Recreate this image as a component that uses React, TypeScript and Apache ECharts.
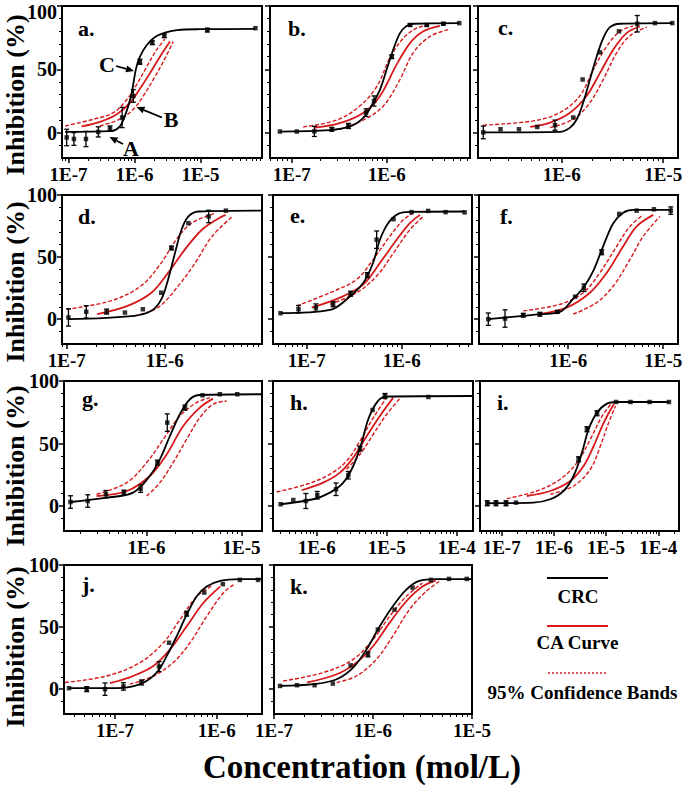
import React, { useEffect, useRef } from 'react';
import * as echarts from 'echarts';

// ---------- data: [concentration mol/L, inhibition %, error] ----------
const aPts = [[9.4e-8,-3.8,6.5],[1.21e-7,-5,5],[1.84e-7,-5,6],[2.83e-7,0.6,4],[4.26e-7,3.3,2],[6.5e-7,12,8],[9.6e-7,29,5],[1.21e-6,56,2],[1.86e-6,71,1.5],[2.83e-6,76.5,1.5],[1.27e-5,81,1.5],[6.8e-5,82.5,0]];
const aCRC = [[8.9e-8,0.6],[4.3e-7,1.2],[6.0e-7,5],[7.6e-7,17],[9.1e-7,31.5],[1.05e-6,50],[1.21e-6,60],[1.53e-6,69],[2.05e-6,75.5],[2.9e-6,79],[4.4e-6,81],[9.8e-6,81.7],[6.8e-5,82]];
const aCA = [[1.58e-7,4.9],[3.0e-7,8.5],[5.4e-7,14.5],[8.6e-7,23.7],[1.21e-6,34.7],[1.72e-6,47],[2.43e-6,60],[3.45e-6,72]];
const aUp = [[8.9e-8,5.3],[2.4e-7,10.6],[4.8e-7,15.8],[7.6e-7,26],[1.08e-6,38],[1.53e-6,52],[2.17e-6,65.5],[2.9e-6,74]];
const aLo = [[3.0e-7,5.3],[6.0e-7,10.6],[9.6e-7,18.4],[1.36e-6,29],[1.93e-6,42],[2.73e-6,56],[3.87e-6,72]];

const bPts = [[7.5e-8,0.9,0],[1.13e-7,0.9,0],[1.73e-7,1,4],[2.64e-7,2.7,1.5],[3.95e-7,5.3,2],[6.05e-7,15.8,3],[7.35e-7,25,4],[1.13e-6,60,1.5],[1.76e-6,85,1],[2.64e-6,85,1],[3.95e-6,86,1],[5.8e-6,86.5,0]];
const bCRC = [[7.5e-8,0.9],[2.5e-7,2],[4.1e-7,4.9],[5.7e-7,11.9],[7.2e-7,23.7],[8.5e-7,34],[1.0e-6,50],[1.17e-6,65.5],[1.38e-6,78.6],[1.62e-6,84.3],[1.9e-6,86],[5.8e-6,86.5]];
const bCA = [[1.76e-7,4],[3.2e-7,7.5],[5.7e-7,15.8],[8.5e-7,29],[1.27e-6,53.7],[1.76e-6,70.7],[2.43e-6,80],[3.63e-6,84.3]];
const bUp = [[1.32e-7,4.5],[3.0e-7,10],[5.2e-7,21],[7.9e-7,36.7],[1.08e-6,59],[1.5e-6,74.7],[2.07e-6,82.5],[2.88e-6,85]];
const bLo = [[3.2e-7,2.7],[5.7e-7,10],[9.2e-7,21],[1.38e-6,42],[1.9e-6,63],[2.86e-6,76],[4.6e-6,81.7]];

const cPts = [[1.69e-7,0.2,5],[2.5e-7,2.7,0],[3.8e-7,2.7,0],[5.75e-7,4.5,0],[8.6e-7,5.9,4],[1.3e-6,12,0],[1.61e-6,42,0],[2.38e-6,63.4,0],[3.67e-6,80,0],[5.55e-6,86,6.5],[8.3e-6,86.5,0],[1.23e-5,86.5,0]];
const cCRC = [[1.69e-7,0.2],[9.6e-7,0.6],[1.21e-6,4],[1.41e-6,10.6],[1.63e-6,23.7],[1.9e-6,42],[2.21e-6,60],[2.57e-6,74.7],[2.99e-6,83.3],[3.75e-6,86],[1.23e-5,86.5]];
const cCA = [[4.9e-7,4.5],[7.7e-7,8],[1.21e-6,15.8],[1.76e-6,29],[2.38e-6,47],[3.22e-6,65.5],[4.36e-6,78.6],[5.9e-6,83.8]];
const cUp = [[1.69e-7,5.9],[5.25e-7,9.3],[9.6e-7,15.8],[1.51e-6,29],[2.05e-6,49.8],[2.77e-6,68],[3.75e-6,80],[5.07e-6,84.3]];
const cLo = [[7.7e-7,4],[1.3e-6,10.6],[1.9e-6,23.7],[2.57e-6,42],[3.48e-6,63],[4.7e-6,76.5],[6.9e-6,83.3]];

const dPts = [[1.04e-7,1.4,7],[1.58e-7,5.9,5],[2.55e-7,6.1,2],[3.92e-7,5.3,0],[5.97e-7,8,0],[9.2e-7,21.3,0],[1.17e-6,57.3,1.5],[1.74e-6,77.3,0],[2.8e-6,82.7,5],[4.2e-6,87.4,0]];
const dCRC = [[1.04e-7,0],[4.9e-7,2.7],[7.3e-7,6.7],[9.2e-7,16],[1.08e-6,32],[1.27e-6,53.3],[1.48e-6,72],[1.74e-6,82.7],[2.21e-6,86.7],[9.7e-6,87.4]];
const dCA = [[2.04e-7,4],[4.17e-7,10.7],[7.3e-7,21.3],[1.08e-6,37.3],[1.6e-6,56],[2.39e-6,72],[3.56e-6,81.3],[4.17e-6,84]];
const dUp = [[1e-7,8],[2.8e-7,14.7],[5.7e-7,26.7],[9.2e-7,45.3],[1.27e-6,62.7],[1.88e-6,77.3],[3.28e-6,85.3]];
const dLo = [[4.9e-7,2.7],[8.5e-7,9.3],[1.37e-6,26.7],[2.04e-6,45.3],[3.03e-6,66.7],[4.9e-6,82.7]];

const ePts = [[5.3e-8,4.8,0],[8.2e-8,8,3],[1.25e-7,9.3,3],[1.9e-7,12,2],[2.9e-7,20.5,2],[4.35e-7,35.5,2],[5.45e-7,64,7],[8.2e-7,80.5,0],[1.27e-6,86.2,0],[1.9e-6,87.2,0],[2.9e-6,86.2,0],[4.6e-6,86,0]];
const eCRC = [[5.3e-8,4.8],[1.76e-7,7.4],[2.64e-7,16],[3.95e-7,29.3],[5.0e-7,45.3],[5.9e-7,64],[7.2e-7,77.3],[9.2e-7,84.8],[1.22e-6,86.4],[4.6e-6,86.7]];
const eCA = [[1.13e-7,9.3],[2.24e-7,17.3],[3.95e-7,28],[5.9e-7,45.3],[8.85e-7,64],[1.22e-6,77.3],[1.56e-6,84]];
const eUp = [[7.85e-8,10.7],[1.76e-7,21.3],[3.36e-7,32],[5.0e-7,48],[7.5e-7,66.7],[1.04e-6,80],[1.32e-6,85.3]];
const eLo = [[1.76e-7,12],[3.36e-7,21.3],[5.45e-7,34.7],[8.2e-7,53.3],[1.22e-6,72],[1.69e-6,82.7]];

const fPts = [[1.44e-7,0,5],[2.16e-7,0.5,7],[3.36e-7,3.2,1.5],[5.03e-7,4,1.5],[7.66e-7,5.9,1],[1.18e-6,18.1,0],[1.46e-6,25.3,3],[2.25e-6,53.9,2],[3.44e-6,84.8,0],[5.25e-6,87.4,0],[7.98e-6,88.5,0],[1.2e-5,87.4,3]];
const fCRC = [[1.44e-7,0],[3.36e-7,2.7],[5.03e-7,4],[8.2e-7,5.9],[1.13e-6,16.5],[1.44e-6,25.3],[1.83e-6,38.7],[2.33e-6,58.7],[2.98e-6,77.3],[3.79e-6,85.8],[4.83e-6,88],[1.2e-5,88]];
const fCA = [[5.0e-7,4],[9.6e-7,9.3],[1.69e-6,21.3],[2.54e-6,37.3],[3.79e-6,58.7],[5.25e-6,74.7],[7.85e-6,84]];
const fUp = [[3.36e-7,6.7],[8.2e-7,12],[1.44e-6,21.3],[2.15e-6,37.3],[3.23e-6,58.7],[4.46e-6,74.7],[6.15e-6,84]];
const fLo = [[1.13e-6,4],[1.99e-6,13.3],[2.98e-6,26.7],[4.46e-6,48],[6.15e-6,66.7],[9.2e-6,82.7]];

const gPts = [[1.58e-7,3.2,5],[2.4e-7,4,5],[3.73e-7,9.4,3],[5.77e-7,10.7,2],[8.65e-7,13.9,3],[1.3e-6,34.7,2],[1.65e-6,66.7,7],[2.53e-6,78.7,2],[3.88e-6,88.6,0],[5.9e-6,89.4,0],[9e-6,89.4,0]];
const gCRC = [[1.58e-7,3.2],[3.8e-7,6.7],[7.2e-7,10.7],[1.08e-6,24],[1.38e-6,37.3],[1.76e-6,56],[2.24e-6,73.4],[2.86e-6,85.4],[3.64e-6,88.8],[1.64e-5,89.4]];
const gCA = [[2.98e-7,8],[6.2e-7,12],[1.08e-6,24],[1.63e-6,41.4],[2.43e-6,64],[3.64e-6,78.7],[5.0e-6,85.9]];
const gUp = [[2.98e-7,9.4],[6.2e-7,18.7],[1e-6,34.7],[1.5e-6,53.4],[2.24e-6,72],[3.36e-6,82.7],[4.63e-6,86.7]];
const gLo = [[1e-6,8],[1.38e-6,18.7],[1.9e-6,34.7],[2.64e-6,53.4],[3.64e-6,70.7],[5.0e-6,81.4],[6.95e-6,84]];

const hPts = [[3.06e-7,1.4,0],[4.64e-7,4.8,0],[7.0e-7,4,6],[1.02e-6,8.6,3],[1.89e-6,13.4,5],[2.83e-6,24.6,3],[4.16e-6,45.9,2],[6.3e-6,76.8,0],[9.46e-6,88,2],[3.94e-5,87.2,0]];
const hCRC = [[3.06e-7,1.4],[8.9e-7,5.4],[1.55e-6,10.7],[2.4e-6,18.7],[3.33e-6,32],[4.4e-6,50.7],[5.46e-6,69.4],[7.2e-6,82.7],[9.46e-6,87.5],[1.71e-4,88]];
const hCA = [[6.1e-7,12.6],[1.24e-6,18.7],[2.15e-6,26.7],[3.33e-6,38.7],[5.2e-6,56],[8.0e-6,72],[1.24e-5,86.7]];
const hUp = [[2.68e-7,11.2],[7.2e-7,17.4],[1.55e-6,25.4],[2.68e-6,36],[4.16e-6,52],[6.45e-6,70.7],[1e-5,86.7]];
const hLo = [[2.68e-6,29.4],[4.16e-6,41.4],[6.45e-6,57.4],[1e-5,73.4],[1.55e-5,86]];

const iPts = [[5.28e-8,2.2,2],[7.77e-8,2.2,2],[1.21e-7,2.2,2],[1.88e-7,2.7,0],[2.97e-6,37.4,2],[4.3e-6,61.4,2],[6.7e-6,74.2,2],[1.55e-5,83.2,0],[2.93e-5,83.2,0],[6.8e-5,83.2,0],[1.6e-4,83.2,0]];
const iCRC = [[5.28e-8,2.2],[4.05e-7,2.7],[8.5e-7,5.4],[1.53e-6,12],[2.38e-6,24],[3.45e-6,42.7],[4.62e-6,61.4],[6.7e-6,74.7],[1.04e-5,81.9],[1.63e-5,83.2],[1.6e-4,83.2]];
const iCA = [[3.03e-7,8],[8.5e-7,12],[2.06e-6,20],[3.7e-6,32],[5.78e-6,48],[9e-6,66.7],[1.4e-5,81.4]];
const iUp = [[1.25e-7,5.9],[4.7e-7,12],[1.32e-6,21.4],[2.77e-6,34.7],[4.99e-6,53.4],[8.4e-6,72],[1.3e-5,82.7]];
const iLo = [[8.5e-7,9.4],[2.38e-6,16],[4.99e-6,29.4],[7.76e-6,48],[1.12e-5,66.7],[1.51e-5,80]];

const jPts = [[3.53e-8,0.8,0],[5.27e-8,0,2],[7.97e-8,0,5],[1.21e-7,2.2,3],[1.82e-7,5.4,2],[2.71e-7,18.2,4],[3.4e-7,37.4,0],[5.07e-7,60.8,2],[7.55e-7,77.8,0],[1.15e-6,84.6,0],[1.69e-6,88,0],[2.55e-6,88,0]];
const jCRC = [[3.53e-8,0.8],[1.04e-7,0.8],[1.76e-7,4],[2.57e-7,13.4],[3.22e-7,26.6],[4.04e-7,42.6],[5.07e-7,60],[6.35e-7,74.6],[7.97e-7,82.6],[1.08e-6,87.2],[1.69e-6,88.6],[2.79e-6,88.6]];
const jCA = [[8.93e-8,4.8],[1.51e-7,10.6],[2.38e-7,18.6],[3.48e-7,32],[5.07e-7,50.6],[7.38e-7,69.4],[1.08e-6,82.6]];
const jUp = [[3.22e-8,5.4],[8.28e-8,10.6],[1.76e-7,21.4],[2.99e-7,37.4],[4.35e-7,56],[6.35e-7,74.6],[9.27e-7,84]];
const jLo = [[1.4e-7,4],[2.38e-7,10.6],[3.74e-7,21.4],[5.46e-7,37.4],[7.97e-7,58.6],[1.16e-6,77.4],[1.46e-6,84]];

const kPts = [[1.15e-7,2.6,0],[1.71e-7,3.2,0],[2.57e-7,3.2,0],[3.93e-7,4.5,0],[5.94e-7,19.2,0],[8.9e-7,28,2],[1.12e-6,48,0],[1.65e-6,64,0],[2.51e-6,81.8,0],[3.84e-6,88,0],[5.85e-6,88.8,0],[8.85e-6,88.8,0]];
const kCRC = [[1.15e-7,2.6],[2.51e-7,4],[4.3e-7,8],[6.3e-7,17.4],[8.6e-7,32],[1.17e-6,50.6],[1.58e-6,66.6],[2.16e-6,80],[2.93e-6,87.2],[4.3e-6,88.6],[1e-5,88.6]];
const kCA = [[2.16e-7,5.4],[4.3e-7,12],[6.8e-7,21.4],[1e-6,34.6],[1.47e-6,53.4],[2.16e-6,70.6],[3.16e-6,82.6],[4.3e-6,87.4]];
const kUp = [[1.24e-7,6.6],[3.16e-7,13.4],[6.3e-7,24],[1e-6,40],[1.47e-6,58.6],[2.16e-6,74.6],[3.16e-6,85.4]];
const kLo = [[4.3e-7,5.4],[6.8e-7,10.6],[1.08e-6,24],[1.58e-6,42.6],[2.33e-6,64],[3.42e-6,78.6],[4.65e-6,86.6]];

// axis ranges (mol/L)
const xRanges = [[7.98e-8,8.55e-5],[5.9e-8,7.53e-6],[1.5e-7,1.4e-5],[8.94e-8,9.8e-6],[4.42e-8,5.5e-6],[1.15e-7,1.43e-5],[1.35e-7,1.64e-5],[2.38e-7,1.71e-4],[3.84e-8,2.49e-4],[3.15e-8,2.79e-6],[1e-7,1e-5]];
const panelLabels = ['a.','b.','c.','d.','e.','f.','g.','h.','i.','j.','k.'];
const yLabelValues = [0, 50, 100];
const yMinorValues = [-10, 10, 20, 30, 40, 60, 70, 80, 90];
const legendNames = ['CRC', 'CA Curve', '95% Confidence Bands'];

const panelData = [
  [aPts,aCRC,aCA,aUp,aLo],[bPts,bCRC,bCA,bUp,bLo],[cPts,cCRC,cCA,cUp,cLo],
  [dPts,dCRC,dCA,dUp,dLo],[ePts,eCRC,eCA,eUp,eLo],[fPts,fCRC,fCA,fUp,fLo],
  [gPts,gCRC,gCA,gUp,gLo],[hPts,hCRC,hCA,hUp,hLo],[iPts,iCRC,iCA,iUp,iLo],
  [jPts,jCRC,jCA,jUp,jLo],[kPts,kCRC,kCA,kUp,kLo],
];

// layout (pixels): left, top, width, height
const boxes = [[62,6,200,152],[270,6,200,152],[478,6,200,152],[62,195,200,149],[273,195,199,149],[479,195,199,149],[64,381,198,150],[273,381,200,150],[480,381,199,150],[64,565,198,149],[274,565,198,149]];
const labelOffsets = [[16,22],[18,22],[20,21],[16,21],[17,20],[21,21],[18,17],[17,21],[17,21],[18,19],[16,21]];

const FONT = 'Liberation Serif';
const RED = '#d7191c';

function arrow(x1: number, y1: number, x2: number, y2: number) {
  const ang = Math.atan2(y2 - y1, x2 - x1);
  const L = 8, W = 3.5;
  const bx = x2 - L * Math.cos(ang), by = y2 - L * Math.sin(ang);
  const px = -Math.sin(ang) * W, py = Math.cos(ang) * W;
  return [
    { type: 'line', shape: { x1, y1, x2: bx, y2: by }, style: { stroke: '#000', lineWidth: 1.8 } },
    { type: 'polygon', shape: { points: [[x2, y2], [bx + px, by + py], [bx - px, by - py]] }, style: { fill: '#000' } },
  ];
}

function buildOption() {
  const grid: any[] = [], xAxis: any[] = [], yAxis: any[] = [], series: any[] = [], graphic: any[] = [];
  panelData.forEach((pd, i) => {
    const [pts, crc, ca, up, lo] = pd;
    const [xMin, xMax] = xRanges[i];
    const [l, t, w, h] = boxes[i];
    grid.push({ left: l, top: t, width: w, height: h, show: true, borderColor: '#000', borderWidth: 2, containLabel: false, outerBoundsMode: 'none' });
    const dec: number[] = [], minor: number[] = [];
    for (let e = -9; e <= -2; e++) {
      for (let m = 1; m <= 9; m++) {
        const v = m * Math.pow(10, e);
        if (v >= xMin * 0.9999 && v <= xMax * 1.0001) (m === 1 ? dec : minor).push(v);
      }
    }
    const showY = i === 0 || i === 3 || i === 6 || i === 9;
    xAxis.push({
      gridIndex: i, type: 'log', logBase: 10, min: xMin, max: xMax, position: 'bottom',
      axisLine: { show: true, onZero: false, lineStyle: { color: '#000', width: 2 } },
      splitLine: { show: false },
      axisTick: { show: true, length: 5, customValues: dec, lineStyle: { color: '#000', width: 1.5 } },
      axisLabel: { show: true, customValues: dec, hideOverlap: false, formatter: (v: number) => '1E' + Math.round(Math.log10(v)), fontFamily: FONT, fontWeight: 'bold', fontSize: 19, color: '#000', margin: 7 },
    });
    xAxis.push({
      gridIndex: i, type: 'log', logBase: 10, min: xMin, max: xMax, position: 'bottom',
      axisLine: { show: false, onZero: false }, splitLine: { show: false },
      axisTick: { show: true, length: 3, customValues: minor, lineStyle: { color: '#000', width: 1 } },
      axisLabel: { show: false },
    });
    yAxis.push({
      gridIndex: i, type: 'value', min: -20, max: 100, position: 'left',
      axisLine: { show: true, onZero: false, lineStyle: { color: '#000', width: 2 } },
      splitLine: { show: false },
      axisTick: { show: true, length: 5, customValues: yLabelValues, lineStyle: { color: '#000', width: 1.5 } },
      axisLabel: {
        show: showY, customValues: yLabelValues, fontFamily: FONT, fontWeight: 'bold', fontSize: 20, color: '#000', margin: 5,
        lineHeight: 12, verticalAlignMaxLabel: i === 0 ? 'top' : 'middle',
      },
    });
    yAxis.push({
      gridIndex: i, type: 'value', min: -20, max: 100, position: 'left',
      axisLine: { show: false, onZero: false }, splitLine: { show: false },
      axisTick: { show: true, length: 3, customValues: yMinorValues, lineStyle: { color: '#000', width: 1 } },
      axisLabel: { show: false },
    });
    const xi = 2 * i, yi = 2 * i;
    const base = { xAxisIndex: xi, yAxisIndex: yi, silent: true };
    const bandStyle = { color: RED, width: 1.4, type: [4, 2] };
    const sm = 0.35;
    series.push({ ...base, type: 'line', data: up, smooth: sm, showSymbol: false, lineStyle: bandStyle });
    series.push({ ...base, type: 'line', data: lo, smooth: sm, showSymbol: false, lineStyle: bandStyle });
    series.push({ ...base, type: 'line', data: ca, smooth: sm, showSymbol: false, lineStyle: { color: RED, width: 1.8 } });
    series.push({ ...base, type: 'line', data: crc, smooth: sm, showSymbol: false, lineStyle: { color: '#000', width: 1.8 }, z: 3 });
    series.push({ ...base, type: 'scatter', data: pts.map((d) => [d[0], d[1]]), symbol: 'rect', symbolSize: 4.5, itemStyle: { color: '#000' }, z: 4 });
    series.push({
      ...base, type: 'custom', z: 4,
      data: pts.filter((d) => d[2] > 0),
      encode: { x: 0, y: 1 },
      renderItem: (_p: any, api: any) => {
        const x = api.value(0), y = api.value(1), e = api.value(2);
        const tp = api.coord([x, y + e]);
        const bt = api.coord([x, y - e]);
        const st = { stroke: '#000', lineWidth: 1.3 };
        const cw = 2.5;
        return {
          type: 'group',
          children: [
            { type: 'line', shape: { x1: tp[0], y1: tp[1], x2: bt[0], y2: bt[1] }, style: st },
            { type: 'line', shape: { x1: tp[0] - cw, y1: tp[1], x2: tp[0] + cw, y2: tp[1] }, style: st },
            { type: 'line', shape: { x1: bt[0] - cw, y1: bt[1], x2: bt[0] + cw, y2: bt[1] }, style: st },
          ],
        };
      },
    });
    graphic.push({
      type: 'text', x: l + labelOffsets[i][0], y: t + labelOffsets[i][1],
      style: { text: panelLabels[i], font: `bold 22px ${FONT}`, fill: '#000', align: 'left', verticalAlign: 'middle' },
    });
  });

  // y titles
  [95, 282, 466, 647].forEach((cy) => {
    graphic.push({
      type: 'text', x: 15, y: cy, rotation: Math.PI / 2,
      style: { text: 'Inhibition (%)', font: `bold 26px ${FONT}`, fill: '#000', align: 'center', verticalAlign: 'middle' },
    });
  });
  // x title
  graphic.push({
    type: 'text', x: 362, y: 767,
    style: { text: 'Concentration (mol/L)', font: `bold 33px ${FONT}`, fill: '#000', align: 'center', verticalAlign: 'middle' },
  });
  // annotations in panel a
  const ann = [['C', 107, 64], ['B', 171, 119], ['A', 131, 148]] as const;
  ann.forEach(([s, x, y]) => {
    graphic.push({ type: 'text', x, y, style: { text: s, font: `bold 22px ${FONT}`, fill: '#000', align: 'center', verticalAlign: 'middle' } });
  });
  graphic.push(...arrow(116, 66, 134, 71));
  graphic.push(...arrow(162, 117.5, 136.5, 107));
  graphic.push(...arrow(123, 144, 109.5, 137));

  // legend
  graphic.push({ type: 'line', shape: { x1: 547, y1: 578, x2: 608, y2: 578 }, style: { stroke: '#000', lineWidth: 2 } });
  graphic.push({ type: 'line', shape: { x1: 547, y1: 626, x2: 608, y2: 626 }, style: { stroke: RED, lineWidth: 2 } });
  graphic.push({ type: 'line', shape: { x1: 548, y1: 673, x2: 608, y2: 673 }, style: { stroke: RED, lineWidth: 1.5, lineDash: [2, 2] } });
  [[578, 596], [577.5, 642], [582.5, 692]].forEach(([x, y], k) => {
    graphic.push({ type: 'text', x, y, style: { text: legendNames[k], font: `bold 19px ${FONT}`, fill: '#000', align: 'center', verticalAlign: 'middle' } });
  });

  return { animation: false, backgroundColor: '#fff', grid, xAxis, yAxis, series, graphic };
}

export default function App() {
  const ref = useRef<HTMLDivElement>(null);
  useEffect(() => {
    document.body.style.margin = '0';
    const chart = echarts.init(ref.current!, null, { renderer: 'svg' });
    chart.setOption(buildOption() as any);
    return () => chart.dispose();
  }, []);
  return <div ref={ref} style={{ width: 685, height: 789 }} />;
}
